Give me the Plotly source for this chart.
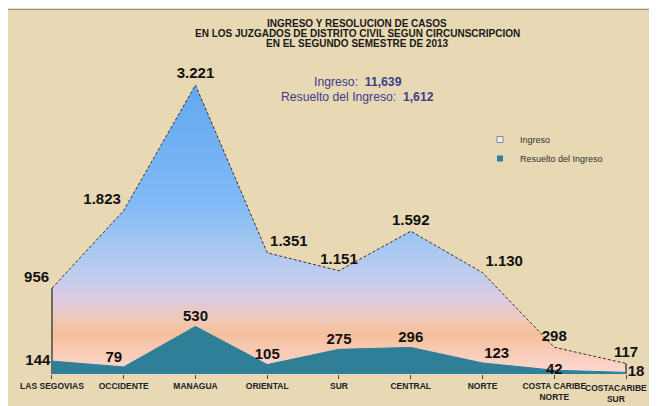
import plotly.graph_objects as go

categories = ["LAS SEGOVIAS", "OCCIDENTE", "MANAGUA", "ORIENTAL", "SUR", "CENTRAL",
              "NORTE", "COSTA CARIBE<br>NORTE", "COSTACARIBE<br>SUR"]
ingreso = [956, 1823, 3221, 1351, 1151, 1592, 1130, 298, 117]
resuelto = [144, 79, 530, 105, 275, 296, 123, 42, 18]

ingreso_pos = ["top left", "top left", "top center", "top right", "top center",
               "top center", "top right", "top center", "top center"]
resuelto_pos = ["middle left", "top left", "top center", "top center", "top center",
                "top center", "top right", "middle center", "middle right"]

ingreso_text = [f"{v:,}".replace(",", ".") for v in ingreso]
resuelto_text = [str(v) for v in resuelto]
total_ingreso = sum(ingreso)
total_resuelto = sum(resuelto)

FONT = "Arial, Liberation Sans, sans-serif"
BEIGE = "#e8d8b3"
TEAL = "#2e7f97"
TICKFONT = dict(family=FONT, size=8.5, color="#222222", weight="bold")

fig = go.Figure()

fig.add_trace(go.Scatter(
    x=categories, y=ingreso, mode="lines+markers+text", name="Ingreso",
    line=dict(color="#333333", width=1, dash="3px,2px"),
    marker=dict(size=3, opacity=0),
    fill="tozeroy",
    fillgradient=dict(type="vertical", start=0, stop=max(ingreso),
                      colorscale=[[0, "#fbd8d4"], [0.05, "#fad0c0"], [0.09, "#f8c8b0"],
                                  [0.14, "#f7c09c"], [0.19, "#efc8b8"], [0.26, "#dccbe0"],
                                  [0.33, "#c4cdee"], [0.43, "#a9c8f0"], [0.6, "#80b9f6"],
                                  [1, "#62a8f0"]]),
    text=ingreso_text, textposition=ingreso_pos, cliponaxis=False,
    textfont=dict(family=FONT, size=15, color="#111111", weight="bold"),
    showlegend=False, hoverinfo="skip",
))

for i in (0, len(categories) - 1):
    fig.add_trace(go.Scatter(
        x=[categories[i], categories[i]], y=[0, ingreso[i]], mode="lines",
        line=dict(color="#222222", width=1.2), showlegend=False, hoverinfo="skip",
    ))

fig.add_trace(go.Scatter(
    x=categories, y=resuelto, mode="lines+markers+text", name="Resuelto del Ingreso",
    line=dict(color=TEAL, width=1),
    marker=dict(size=1, opacity=0),
    fill="tozeroy", fillcolor=TEAL,
    text=resuelto_text, textposition=resuelto_pos, cliponaxis=False,
    textfont=dict(family=FONT, size=15, color="#111111", weight="bold"),
    showlegend=False, hoverinfo="skip",
))

# legend-only entries
fig.add_trace(go.Scatter(x=[None], y=[None], mode="markers", name="Ingreso",
                         marker=dict(symbol="square", size=6, color="#e8eef4",
                                     line=dict(color="#8a8a8a", width=1))))
fig.add_trace(go.Scatter(x=[None], y=[None], mode="markers", name="Resuelto del Ingreso",
                         marker=dict(symbol="square", size=6, color=TEAL)))

W, H = 649, 398
OFF = 8  # page body margin offset
ML, MR, MT, MB = 2, 2, 12, 32
pw, ph = W - ML - MR, H - MT - MB


def px(x):
    return (x - OFF - ML) / pw


def py(y):
    return (H - MB - (y - OFF)) / ph


shapes = [
    dict(type="line", xref="paper", yref="paper", x0=px(0), x1=px(W + OFF), y0=py(9.5), y1=py(9.5),
         line=dict(color="#9a948a", width=1), layer="below"),
]

title_lines = ["INGRESO Y RESOLUCION DE CASOS",
               "EN LOS JUZGADOS DE DISTRITO CIVIL SEGUN CIRCUNSCRIPCION",
               "EN EL SEGUNDO SEMESTRE DE 2013"]
title_y = [23.5, 33.5, 43.5]
annotations = []
for t, yy in zip(title_lines, title_y):
    annotations.append(dict(text=f"<b>{t}</b>", xref="paper", yref="paper", x=px(357), y=py(yy),
                            xanchor="center", yanchor="middle", showarrow=False,
                            font=dict(family=FONT, size=10, color="#1a1a1a")))
annotations.append(dict(text=f"Ingreso:  <b>{total_ingreso:,}</b>", xref="paper", yref="paper",
                        x=px(358), y=py(82), xanchor="center", yanchor="middle", showarrow=False,
                        font=dict(family=FONT, size=12.2, color="#3d3d8c")))
annotations.append(dict(text=f"Resuelto del Ingreso:  <b>{total_resuelto:,}</b>", xref="paper",
                        yref="paper", x=px(357), y=py(97), xanchor="center", yanchor="middle",
                        showarrow=False, font=dict(family=FONT, size=12.2, color="#3d3d8c")))
# last category label, right-aligned so it stays inside the visible page
annotations.append(dict(text=categories[-1], xref="paper", yref="paper", x=px(649), y=py(381),
                        xanchor="right", yanchor="top", align="center", showarrow=False,
                        font=TICKFONT))

fig.update_layout(
    width=W, height=H, autosize=False,
    margin=dict(l=ML, r=MR, t=MT, b=MB, pad=0),
    paper_bgcolor=BEIGE, plot_bgcolor="rgba(0,0,0,0)",
    shapes=shapes, annotations=annotations,
    showlegend=True,
    legend=dict(x=px(480), y=py(125), xanchor="left", yanchor="top",
                bgcolor="rgba(0,0,0,0)", font=dict(family=FONT, size=9, color="#333333"),
                itemwidth=30, tracegroupgap=0),
    xaxis=dict(type="category", range=[-0.585, 8.404], showgrid=False, zeroline=False,
               showline=False, ticks="outside", ticklen=4, tickcolor="#444444",
               tickvals=categories, ticktext=categories[:-1] + [""],
               tickfont=TICKFONT, automargin=False, fixedrange=True),
    yaxis=dict(range=[0, 3946], visible=False, fixedrange=True, automargin=False),
)

fig.write_html("out.html")
